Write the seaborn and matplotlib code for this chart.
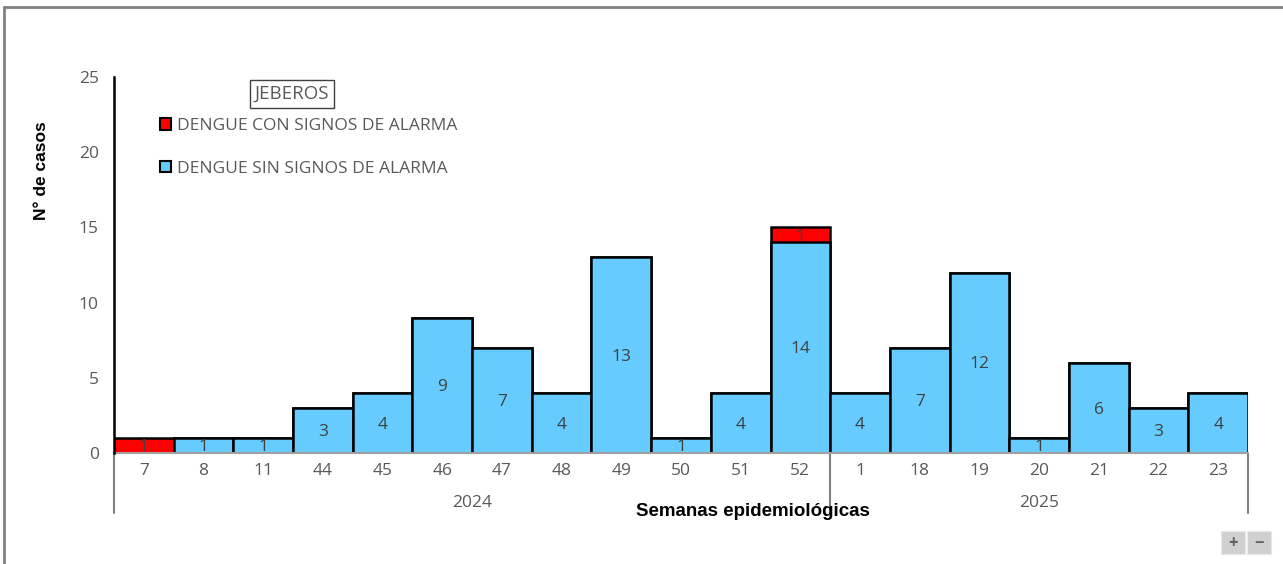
import matplotlib
matplotlib.use("Agg")
import matplotlib.pyplot as plt
import seaborn as sns
import pandas as pd
from matplotlib.patches import Rectangle
from matplotlib.lines import Line2D

weeks = ["7", "8", "11", "44", "45", "46", "47", "48", "49", "50", "51", "52",
         "1", "18", "19", "20", "21", "22", "23"]
years = ["2024"] * 12 + ["2025"] * 7
sin_alarma = [0, 1, 1, 3, 4, 9, 7, 4, 13, 1, 4, 14, 4, 7, 12, 1, 6, 3, 4]
con_alarma = [1, 0, 0, 0, 0, 0, 0, 0, 0, 0, 0, 1, 0, 0, 0, 0, 0, 0, 0]
year_labels = ["2024", "2025"]
title_box = "JEBEROS"
label_con = "DENGUE CON SIGNOS DE ALARMA"
label_sin = "DENGUE SIN SIGNOS DE ALARMA"

sns.set_style("white")
plt.rcParams["font.family"] = ["Open Sans", "DejaVu Sans"]

df = pd.DataFrame({
    "pos": list(range(len(weeks))),
    "week": weeks,
    "sin": sin_alarma,
    "con": con_alarma,
})
df["total"] = df["sin"] + df["con"]

W, H = 1283, 564
fig = plt.figure(figsize=(W / 100, H / 100), dpi=100)
ax = fig.add_axes([114 / W, 1 - 453 / H, (1248 - 114) / W, (453 - 77) / H])

RED = "#FF0000"
BLUE = "#66CCFF"
GRAY = "#595959"
FS = 12.5
PX = (453 - 77) / 25  # pixels per data unit

sns.barplot(data=df, x="pos", y="total", color=RED, width=1.0, saturation=1,
            edgecolor="black", linewidth=1.8, ax=ax, label=label_con, order=df["pos"])
sns.barplot(data=df, x="pos", y="sin", color=BLUE, width=1.0, saturation=1,
            edgecolor="black", linewidth=1.8, ax=ax, label=label_sin, order=df["pos"])

# value labels
for i, (s, c) in enumerate(zip(sin_alarma, con_alarma)):
    if s > 0:
        ax.annotate(str(s), (i, s / 2), xytext=(0, -1.2), textcoords="offset points",
                    ha="center", va="center", fontsize=FS, color="#404040", zorder=6)
    if c > 0:
        ax.annotate(str(c), (i, s + c / 2), xytext=(0, -1.2), textcoords="offset points",
                    ha="center", va="center", fontsize=FS, color="#404040", zorder=6)

ax.set_xlim(-0.5, len(weeks) - 0.5)
ax.set_ylim(0, 25)
ax.set_yticks([0, 5, 10, 15, 20, 25])
ax.tick_params(axis="y", length=0, pad=11, labelsize=FS, labelcolor=GRAY)
ax.set_xticks(range(len(weeks)))
ax.set_xticklabels(weeks)
ax.tick_params(axis="x", length=0, pad=7, labelsize=FS, labelcolor=GRAY)
ax.set_xlabel("")
ax.set_ylabel("")

for sp in ["top", "right"]:
    ax.spines[sp].set_visible(False)
ax.spines["left"].set_color("black")
ax.spines["left"].set_linewidth(1.8)
ax.spines["bottom"].set_color("#A0A0A0")
ax.spines["bottom"].set_linewidth(1.5)
ax.spines["left"].set_zorder(5)

# group separators below axis
yb = -(513 - 453) / PX
for xs in [-0.5, 11.5, len(weeks) - 0.5]:
    ax.plot([xs, xs], [0, yb], color="#808080", lw=1.5, clip_on=False)

# year labels
ax.text(5.5, -(503 - 453) / PX, year_labels[0], ha="center", va="center",
        fontsize=FS, color=GRAY, clip_on=False)
ax.text(15.0, -(503 - 453) / PX, year_labels[1], ha="center", va="center",
        fontsize=FS, color=GRAY, clip_on=False)

# axis titles
fig.text(753 / W, 1 - 512 / H, "Semanas epidemiológicas", ha="center", va="center",
         fontsize=13.5, fontweight="bold", family=["Liberation Sans", "DejaVu Sans"], color="black")
fig.text(42 / W, 1 - 171 / H, "N° de casos", ha="center", va="center", rotation=90,
         fontsize=12.5, fontweight="bold", family=["Liberation Sans", "DejaVu Sans"], color="black")

# title box
fig.text(292 / W, 1 - 94 / H, title_box, ha="center", va="center", fontsize=13.5, color=GRAY,
         bbox=dict(boxstyle="square,pad=0.26", fc="white", ec="#404040", lw=1))

# legend
handles = [Rectangle((0, 0), 1, 1, fc=RED, ec="black", lw=1.5),
           Rectangle((0, 0), 1, 1, fc=BLUE, ec="black", lw=1.5)]
leg = ax.legend(handles, [label_con, label_sin], loc="upper left",
                bbox_to_anchor=(160 / W, 1 - 118 / H), bbox_transform=fig.transFigure,
                frameon=False, fontsize=FS, handlelength=0.65, handleheight=0.65,
                handletextpad=0.35, labelspacing=1.53, borderpad=0, borderaxespad=0)
for t in leg.get_texts():
    t.set_color(GRAY)

# outer frame (top and left)
fig.add_artist(Line2D([4 / W, 1.0], [1 - 7 / H, 1 - 7 / H], transform=fig.transFigure,
                      color="#808080", lw=2))
fig.add_artist(Line2D([4 / W, 4 / W], [0, 1 - 7 / H], transform=fig.transFigure,
                      color="#808080", lw=2))

# zoom buttons
for bx, sym in [(1221, "+"), (1247, "−")]:
    fig.add_artist(Rectangle((bx / W, 1 - 554 / H), 24 / W, 23 / H, transform=fig.transFigure,
                             fc="#D0D0D0", ec="#E8E8E8", lw=0.8))
    fig.text((bx + 12) / W, 1 - 543 / H, sym, ha="center", va="center", fontsize=12,
             fontweight="bold", color="#606060")

fig.savefig("out.png", dpi=100)
